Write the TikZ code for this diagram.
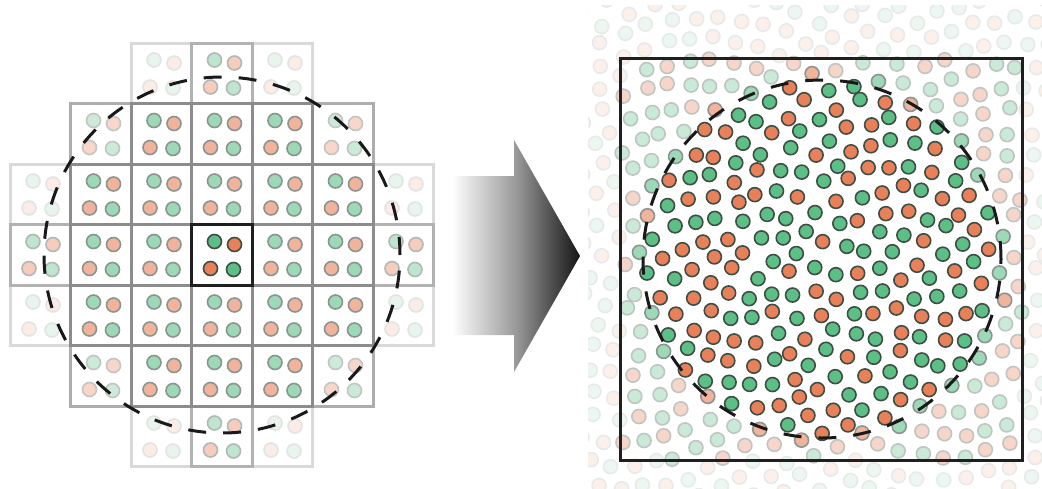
\documentclass[tikz,border=0pt]{standalone}
\usetikzlibrary{calc}
\definecolor{dotG}{RGB}{92,191,133}
\definecolor{dotO}{RGB}{232,128,90}
\definecolor{dotLine}{RGB}{62,78,68}
\tikzset{
  dashring/.style={draw=black!90, line width=3pt, dash pattern=on 18pt off 17pt},
  cellbox/.style={line width=3pt},
  dotmark/.style={line width=1.6pt},
}
% four dots of one unit cell; #1,#2 = top-left corner, #3 = strength in percent
\newcommand{\celldots}[3]{%
  \foreach \dx/\dy/\c in {23/17/dotG, 43/20/dotO, 19/44/dotO, 42/45/dotG}
    \filldraw[dotmark, fill=\c!#3!white, draw=dotLine!#3!white] ({#1+\dx},{#2+\dy}) circle (7pt);
}
% one unit cell of the supercell grid: column, row, strength, frame colour
\newcommand{\gridcell}[4]{%
  \draw[cellbox, draw=#4] ({10+#1*60.5},{43+#2*60.5}) rectangle +(60.5,60.5);
  \celldots{10+#1*60.5}{43+#2*60.5}{#3}
}
\begin{document}
\begin{tikzpicture}[x=1pt,y=-1pt]
\useasboundingbox (0,0) rectangle (1042,488);

% ---- periodic supercell grid ----
\foreach \i/\j in {2/0,4/0,0/2,6/2,0/4,6/4,2/6,4/6}
  \gridcell{\i}{\j}{15}{black!15};
\foreach \i/\j in {1/1,5/1,1/5,5/5}
  \gridcell{\i}{\j}{32}{black!32};
\foreach \i/\j in {3/0,0/3,6/3,3/6}
  \gridcell{\i}{\j}{40}{black!30};
\foreach \i/\j in {2/1,3/1,4/1,
                   1/2,2/2,3/2,4/2,5/2,
                   1/3,2/3,4/3,5/3,
                   1/4,2/4,3/4,4/4,5/4,
                   2/5,3/5,4/5}
  \gridcell{\i}{\j}{60}{black!45};
\gridcell{3}{3}{100}{black!88}
\draw[dashring] (222,255) circle (178pt);

% ---- transition arrow ----
\shade[left color=white, right color=black!92, middle color=black!40]
  (452,176) -- (514,176) -- (514,140) -- (580,256) -- (514,372) -- (514,335) -- (452,335) -- cycle;

% ---- aperiodic arrangement ----
\begin{scope}
\clip (588,5) rectangle (1042,488);
\pgfmathsetseed{11}
\foreach \n in {1,...,770}{
  \pgfmathsetmacro\rr{12.5*sqrt(\n)}
  \pgfmathsetmacro\fr{\n*0.381966-floor(\n*0.381966)}
  \pgfmathsetmacro\ang{360*\fr}
  \pgfmathsetmacro\px{822+\rr*cos(\ang)+3*rand}
  \pgfmathsetmacro\py{259+\rr*sin(\ang)+3*rand}
  \pgfmathsetmacro\dd{veclen(\px-822,\py-259)}
  \pgfmathtruncatemacro\lv{\dd<176 ? 100 : (\dd<188 ? 60 : ((abs(\px-821)<201 && abs(\py-259)<201) ? 33 : 12))}
  \pgfmathtruncatemacro\cc{rnd<0.5 ? 1 : 0}
  \ifnum\cc=1 \def\col{dotG}\else\def\col{dotO}\fi
  \filldraw[dotmark, fill=\col!\lv!white, draw=dotLine!\lv!white] (\px,\py) circle (7pt);
}
\end{scope}
\draw[line width=3pt, draw=black!88] (620,58) rectangle (1022,460);
\draw[dashring] (822,259) circle (179pt);
\end{tikzpicture}
\end{document}
